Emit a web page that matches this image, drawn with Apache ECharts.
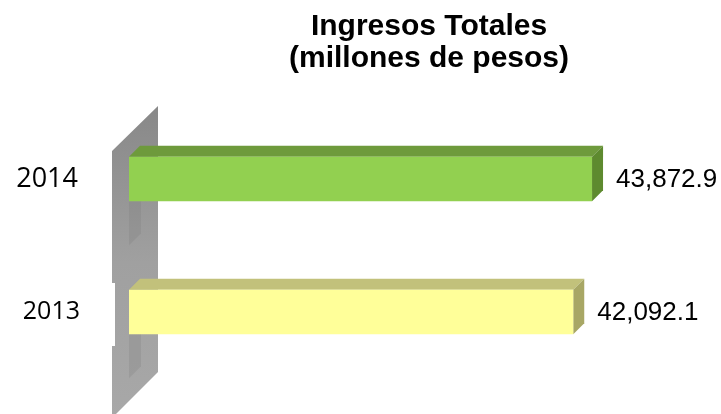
<!DOCTYPE html>
<html>
<head>
<meta charset="utf-8">
<script src="https://cdn.jsdelivr.net/npm/echarts@6/dist/echarts.min.js"></script>
<style>
  html, body { margin: 0; padding: 0; background: #fff; }
  #chart { width: 721px; height: 414px; }
</style>
</head>
<body>
<div id="chart"></div>
<script>
// datos
const categories = ['2013', '2014'];
const values = [42092.1, 43872.9];

// colores por barra (cara frontal, superior, lateral)
const frontColors = ['#ffff99', '#92d050'];
const topColors = ['#c2c17b', '#6e9a3c'];
const sideColors = ['#a8a765', '#5e8a2f'];

const DEPTH = 11;

function fmt(v) {
  const parts = v.toFixed(1).split('.');
  parts[0] = parts[0].replace(/\B(?=(\d{3})+(?!\d))/g, ',');
  return parts.join('.');
}

const chart = echarts.init(document.getElementById('chart'));

// pared gris de la izquierda (decorativa)
function renderWall(params, api) {
  const top = api.coord([0, 1]);
  const bot = api.coord([0, 0]);
  const x0 = top[0];
  const left = x0 - 17, right = x0 + 29;
  const band = api.size([0, 1])[1];
  const h = band * 0.335;
  const shadows = [top[1] + h / 2, bot[1] + h / 2].map(yb => ({
    type: 'polygon',
    shape: { points: [[x0, yb], [x0 + 12, yb], [x0 + 12, yb + 32], [x0, yb + 44]] },
    style: { fill: 'rgba(120,120,120,0.22)' }
  }));
  return {
    type: 'group',
    children: [{
      type: 'polygon',
      shape: {
        points: [
          [left, top[1] - 28], [right, top[1] - 73], [right, bot[1] + 60], [left, bot[1] + 106],
          [left, bot[1] + 34], [left + 3, bot[1] + 34], [left + 3, bot[1] - 29], [left, bot[1] - 29]
        ]
      },
      style: {
        fill: new echarts.graphic.LinearGradient(0, 0, 0, 1, [
          { offset: 0, color: '#888888' },
          { offset: 0.5, color: '#a0a0a0' },
          { offset: 1, color: '#a8a8a8' }
        ])
      }
    }].concat(shadows)
  };
}

// barras 3D
function renderBar(params, api) {
  const i = params.dataIndex;
  const start = api.coord([0, api.value(1)]);
  const end = api.coord([api.value(0), api.value(1)]);
  const h = api.size([0, 1])[1] * 0.335;
  const x0 = start[0], x1 = end[0];
  const yt = start[1] - h / 2, yb = start[1] + h / 2;
  const d = DEPTH;
  return {
    type: 'group',
    children: [
      {
        type: 'polygon',
        shape: { points: [[x0, yt], [x0 + d, yt - d], [x1 + d, yt - d], [x1, yt]] },
        style: { fill: topColors[i] }
      },
      {
        type: 'polygon',
        shape: { points: [[x1, yt], [x1 + d, yt - d], [x1 + d, yb - d], [x1, yb]] },
        style: { fill: sideColors[i] }
      },
      {
        type: 'rect',
        shape: { x: x0, y: yt, width: x1 - x0, height: h },
        style: { fill: frontColors[i] }
      },
      {
        type: 'text',
        style: {
          text: fmt(api.value(0)),
          x: x1 + d + 13,
          y: start[1] + 1,
          align: 'left',
          verticalAlign: 'middle',
          fill: '#000',
          fontSize: 26,
          fontFamily: 'Liberation Sans, Arial, sans-serif'
        }
      }
    ]
  };
}

const option = {
  backgroundColor: '#fff',
  animation: false,
  title: {
    text: 'Ingresos Totales\n(millones de pesos)',
    left: 424,
    top: 6,
    textAlign: 'center',
    textStyle: {
      fontFamily: 'Liberation Sans, Arial, sans-serif',
      fontSize: 30,
      fontWeight: 'bold',
      color: '#000',
      lineHeight: 32
    }
  },
  grid: { left: 129, top: 112.5, right: 64.3, bottom: 35.5 },
  xAxis: { type: 'value', min: 0, max: 50000, show: false },
  yAxis: {
    type: 'category',
    data: categories,
    axisLine: { show: false },
    axisTick: { show: false },
    splitLine: { show: false },
    axisLabel: {
      margin: 49,
      formatter: v => `{y${v}|${v}}`,
      rich: {
        y2014: { fontSize: 27, fontFamily: 'Open Sans', color: '#000', padding: [0, 2, 0, 0] },
        y2013: { fontSize: 25, fontFamily: 'Open Sans', color: '#000' }
      }
    }
  },
  series: [
    {
      type: 'custom',
      renderItem: renderWall,
      data: [[0, 0]],
      silent: true,
      z: 1
    },
    {
      type: 'custom',
      renderItem: renderBar,
      encode: { x: 0, y: 1 },
      data: values.map((v, i) => [v, i]),
      z: 2
    }
  ]
};

chart.setOption(option);
</script>
</body>
</html>
